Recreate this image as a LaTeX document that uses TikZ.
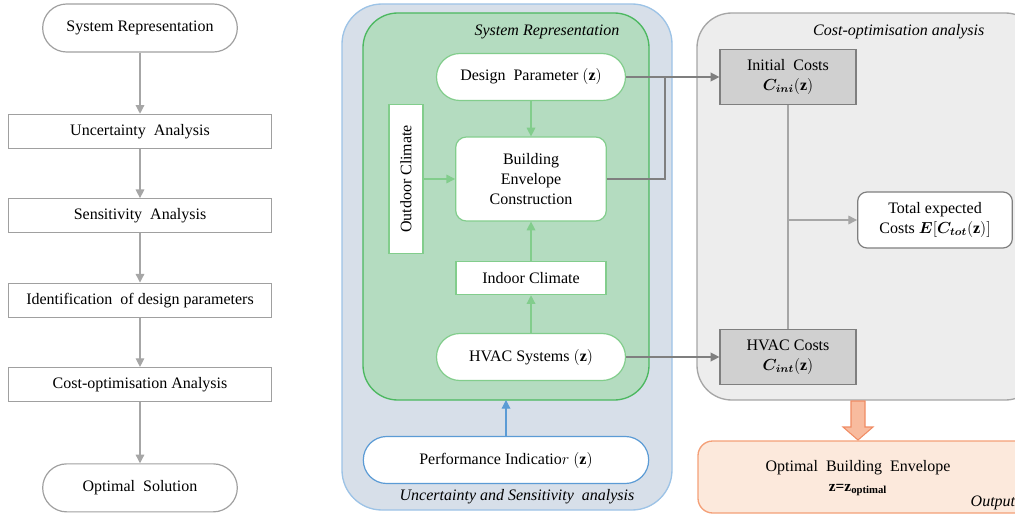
\documentclass[tikz,border=0pt]{standalone}
\usepackage{amsmath,bm}
\usepackage{fontspec}
\setmainfont{Liberation Serif}
\usetikzlibrary{arrows.meta}

\definecolor{flowgray}{RGB}{160,160,160}
\definecolor{arrowgray}{RGB}{166,166,166}
\definecolor{bluefill}{RGB}{215,223,233}
\definecolor{bluebd}{RGB}{157,195,230}
\definecolor{blueln}{RGB}{91,155,213}
\definecolor{greenfill}{RGB}{180,220,192}
\definecolor{greenbd}{RGB}{76,184,96}
\definecolor{greenln}{RGB}{130,205,140}
\definecolor{costfill}{RGB}{237,237,237}
\definecolor{costbd}{RGB}{166,166,166}
\definecolor{boxfill}{RGB}{208,208,208}
\definecolor{boxbd}{RGB}{127,127,127}
\definecolor{orangefill}{RGB}{248,187,158}
\definecolor{orangebd}{RGB}{240,140,100}
\definecolor{outfill}{RGB}{252,233,220}
\definecolor{outbd}{RGB}{244,160,120}

\begin{document}
\begin{tikzpicture}[x=0.75pt, y=-0.75pt, node distance=63.3pt,
                    font=\fontsize{12}{15}\selectfont,
                    tip/.style={-{Triangle[width=6.5pt,length=6.5pt]}},
                    flow node/.style={draw=flowgray, line width=0.9pt, fill=white,
                                      minimum width=197pt, minimum height=25.5pt, inner sep=2pt},
                    term node/.style={flow node, rounded corners=18pt,
                                      minimum width=146pt, minimum height=36pt},
                    green node/.style={draw=greenln, line width=0.9pt, fill=white,
                                       align=center, inner sep=2pt},
                    pill node/.style={green node, rounded corners=17.5pt,
                                      minimum width=141.75pt, minimum height=35.25pt},
                    cost node/.style={draw=boxbd, line width=0.9pt, fill=boxfill, align=center,
                                      minimum width=102pt, minimum height=41pt, inner sep=2pt},
                    tag/.style={font=\fontsize{12}{15}\selectfont\itshape}]

  \useasboundingbox (0,0) rectangle (1015,517);
  \clip (0,0) rectangle (1015,517);

  % left flow chart
  \node[term node] (1) at (140,28) {System Representation};
  \node[flow node] (2) [below of=1, node distance=77.5pt] {Uncertainty\ \ Analysis};
  \node[flow node] (3) [below of=2] {Sensitivity\ \ Analysis};
  \node[flow node] (4) [below of=3] {Identification\ \ of design parameters};
  \node[flow node] (5) [below of=4] {Cost-optimisation Analysis};
  \node[term node] (6) [below of=5, node distance=77.5pt] {Optimal\ \ Solution};

  \foreach \a/\b in {1/2,2/3,3/4,4/5,5/6}
    \draw[tip, draw=arrowgray, fill=arrowgray, line width=0.9pt] (\a) -- (\b);

  % containers
  \draw[draw=bluebd, fill=bluefill, line width=1pt, rounded corners=30pt] (342,4) rectangle (672,510);
  \draw[draw=greenbd, fill=greenfill, line width=1pt, rounded corners=26pt] (363,13) rectangle (649,400);
  \draw[draw=costbd, fill=costfill, line width=1pt, rounded corners=26pt] (697,13) rectangle (1040,400);
  \draw[draw=outbd, fill=outfill, line width=1pt, rounded corners=11pt] (698,441) rectangle (1040,513);

  \node[tag, anchor=east] (sysrep) at (624,32) {System Representation};
  \node[tag, anchor=east] (costopt) at (989,32) {Cost-optimisation analysis};
  \node[tag] (unsens) at (517,497) {Uncertainty and Sensitivity\ \ analysis};
  \node[tag, anchor=west] (outtag) at (966,503) {Output};

  % system representation
  \node[pill node] (design) at (531,77) {Design\ \ Parameter $(\mathbf{z})$};
  \node[green node, rounded corners=8pt, minimum width=113pt, minimum height=63pt]
       (building) at (531,179) {Building\\Envelope\\Construction};
  \node[green node, rotate=90, minimum width=112pt, minimum height=25.5pt]
       (outdoor) at (406,179) {Outdoor Climate};
  \node[green node, minimum width=112.5pt, minimum height=25pt] (indoor) at (531,278) {Indoor Climate};
  \node[pill node] (hvac) at (531,357) {HVAC Systems $(\mathbf{z})$};
  \node[pill node, draw=blueln, minimum width=214pt] (perf) at (506,460)
       {Performance Indicatio$r$ $(\mathbf{z})$};
  \coordinate (greenbot) at (506,400);

  \path[tip, draw=greenln, fill=greenln, line width=0.9pt]
    (design) edge (building)
    (outdoor) edge (building)
    (indoor) edge (building)
    (hvac) edge (indoor);
  \draw[tip, draw=blueln, fill=blueln, line width=0.9pt] (perf) -- (greenbot);

  % cost optimisation
  \node[cost node] (initial) at (788,77) {Initial\ \ Costs\\$\bm{C_{ini}}(\mathbf{z})$};
  \node[cost node] (hvaccost) at (788,357) {HVAC Costs\\$\bm{C_{int}}(\mathbf{z})$};
  \node[green node, draw=boxbd, rounded corners=7pt, minimum width=116pt, minimum height=42pt]
       (total) at (935,220) {Total expected\\Costs $\bm{E}[\bm{C_{tot}}(\mathbf{z})]$};

  \coordinate (join) at (665,77);
  \draw[draw=boxbd, line width=1pt] (design.east) -- (join);
  \draw[draw=boxbd, line width=1pt] (building.east) -| (join);
  \draw[tip, draw=boxbd, fill=boxbd, line width=1pt] (join) -- (initial.west);
  \draw[tip, draw=boxbd, fill=boxbd, line width=1pt] (hvac.east) -- (hvaccost.west);

  \draw[draw=arrowgray, line width=0.8pt] (initial) -- (hvaccost);
  \coordinate (split) at (initial.south |- total.west);
  \draw[tip, draw=arrowgray, fill=arrowgray, line width=0.8pt] (split) -- (total.west);

  % output
  \draw[draw=orangebd, fill=orangefill, line width=0.8pt]
    (851,401) -- (865,401) -- (865,427) -- (873,427) -- (858,440)
    -- (843,427) -- (851,427) -- cycle;
  \node (optenv) at (858,468) {Optimal\ \ Building\ \ Envelope};
  \node[font=\fontsize{11.5}{13}\selectfont\bfseries] (zopt) at (858,490) {z=z\textsubscript{optimal}};
\end{tikzpicture}
\end{document}
